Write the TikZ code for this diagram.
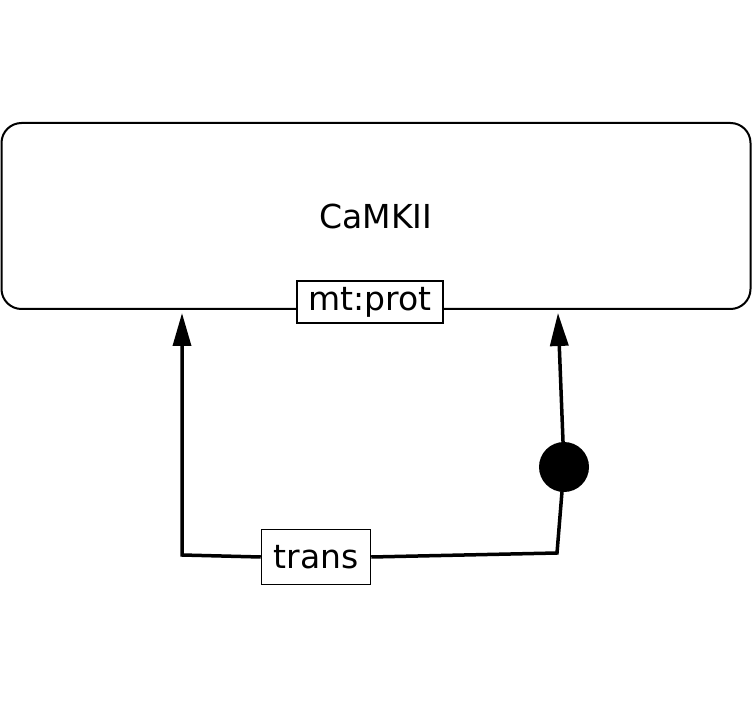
\documentclass[tikz,border=0pt]{standalone}
\usepackage{fontspec}
\setmainfont{DejaVu Sans}
\usetikzlibrary{arrows.meta}
\begin{document}
\begin{tikzpicture}[x=1pt,y=-1pt,
  lbl/.style={font=\fontsize{33}{39}\selectfont},
  portbox/.style={draw, fill=white, line width=1.5pt, inner sep=0pt, lbl},
  conn/.style={line width=3.5pt, line join=miter},
  arr/.style={conn, -{Triangle[length=33pt, width=18pt]}}]
\useasboundingbox (0,0) rectangle (752,708);
\node[draw, line width=2pt, rounded corners=20pt, minimum width=749pt, minimum height=186pt, inner sep=0pt, lbl] (camk) at (376,216) {CaMKII};
\node[portbox, minimum width=146pt, minimum height=42pt] (mt) at (370,302) {mt:prot};
\node[portbox, minimum width=109pt, minimum height=55pt] (trans) at (316,557) {trans};
\coordinate (l) at (182,555);
\coordinate (lt) at (182,313);
\coordinate (r) at (557,553);
\coordinate (rt) at (558,313);
\coordinate (cc) at (564,467);
\draw[arr] (trans.west) -- (l) -- (lt);
\draw[conn] (trans.east) -- (r) -- (cc);
\draw[arr] (cc) -- (rt);
\node[circle, fill=black, minimum size=50pt, inner sep=0pt] (c) at (cc) {};
\end{tikzpicture}
\end{document}
